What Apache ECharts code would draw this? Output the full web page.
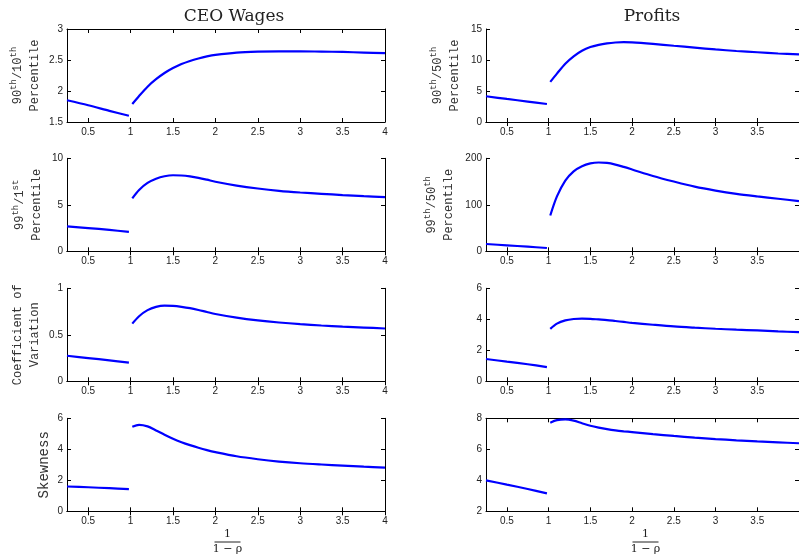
<!DOCTYPE HTML>
<html>
    <head>
        <meta charset="UTF-8">
        <title>CEO Wages and Profits</title>
        <style>
            html,body{margin:0;width:100%;height:100%;background:#fff;}
            #wrap{width:799px;height:556px;}
        </style>
    </head>
    <body>
        <div id="wrap"></div>

        <script src="https://cdn.jsdelivr.net/npm/echarts@6/dist/echarts.min.js"></script>
        <script>
            // x grid of the two segments (1/(1-rho))
            let xLow = [0.25, 0.5, 0.75, 0.98];
            let xHigh = [1.02, 1.1, 1.2, 1.3, 1.4, 1.5, 1.6, 1.7, 1.8, 1.9, 2, 2.25, 2.5, 2.75, 3, 3.25, 3.5, 3.75, 4];
            let xTicks = [0.5, 1, 1.5, 2, 2.5, 3, 3.5, 4];
            let xTicksRight = [0.5, 1, 1.5, 2, 2.5, 3, 3.5];

            // CEO wages
            let ceoP9010Low = [1.85, 1.77, 1.68, 1.60];
            let ceoP9010High = [1.79, 1.92, 2.07, 2.19, 2.29, 2.37, 2.435, 2.485, 2.525, 2.558, 2.583, 2.62, 2.635, 2.64, 2.64, 2.635, 2.63, 2.62, 2.61];
            let ceoP9901Low = [2.68, 2.5, 2.3, 2.08];
            let ceoP9901High = [5.7, 6.6, 7.35, 7.8, 8.07, 8.18, 8.15, 8.05, 7.9, 7.7, 7.48, 7.07, 6.75, 6.5, 6.32, 6.18, 6.05, 5.93, 5.82];
            let ceoCvLow = [0.275, 0.25, 0.225, 0.2];
            let ceoCvHigh = [0.62, 0.7, 0.765, 0.8, 0.813, 0.81, 0.8, 0.786, 0.767, 0.745, 0.724, 0.685, 0.655, 0.632, 0.614, 0.6, 0.588, 0.578, 0.568];
            let ceoSkewLow = [1.6, 1.55, 1.49, 1.43];
            let ceoSkewHigh = [5.45, 5.58, 5.48, 5.22, 4.94, 4.68, 4.46, 4.27, 4.1, 3.95, 3.82, 3.55, 3.36, 3.21, 3.1, 3.02, 2.95, 2.88, 2.82];

            // profits
            let prP9050Low = [4.15, 3.72, 3.3, 2.9];
            let prP9050High = [6.47, 7.8, 9.4, 10.6, 11.5, 12.1, 12.45, 12.68, 12.82, 12.88, 12.85, 12.6, 12.3, 12.0, 11.7, 11.45, 11.25, 11.05, 10.9];
            let prP9950Low = [15.7, 12.8, 10, 7.1];
            let prP9950High = [77, 118, 152, 172, 183, 189, 191, 190, 186.5, 181.5, 176, 162, 150, 139, 130.5, 123.5, 118, 113, 108];
            let prCvLow = [1.44, 1.27, 1.1, 0.92];
            let prCvHigh = [3.38, 3.72, 3.93, 4.02, 4.05, 4.03, 3.99, 3.95, 3.89, 3.83, 3.77, 3.65, 3.54, 3.46, 3.39, 3.33, 3.28, 3.22, 3.17];
            let prSkewLow = [4.0, 3.72, 3.44, 3.16];
            let prSkewHigh = [7.72, 7.88, 7.93, 7.85, 7.68, 7.52, 7.4, 7.3, 7.22, 7.16, 7.11, 6.98, 6.86, 6.75, 6.66, 6.58, 6.51, 6.45, 6.39];

            let serif = '"DejaVu Serif", serif';
            let mono = '"Liberation Mono", "DejaVu Sans Mono", monospace';
            let sup = {
                n: {fontFamily: mono, fontSize: 12, color: '#333', lineHeight: 17},
                s: {fontFamily: mono, fontSize: 9, color: '#333', verticalAlign: 'top', lineHeight: 17},
                b: {fontFamily: mono, fontSize: 14, color: '#333', lineHeight: 17}
            };

            let panels = [
                {col: 0, row: 0, low: ceoP9010Low, high: ceoP9010High, min: 1.5, max: 3, step: 0.5,
                 name: '{n|90}{s|th}{n|/10}{s|th}\n{n|Percentile}', gap: 24},
                {col: 0, row: 1, low: ceoP9901Low, high: ceoP9901High, min: 0, max: 10, step: 5,
                 name: '{n|99}{s|th}{n|/1}{s|st}\n{n|Percentile}', gap: 22},
                {col: 0, row: 2, low: ceoCvLow, high: ceoCvHigh, min: 0, max: 1, step: 0.5,
                 name: '{n|Coefficient of}\n{n|Variation}', gap: 24},
                {col: 0, row: 3, low: ceoSkewLow, high: ceoSkewHigh, min: 0, max: 6, step: 2,
                 name: '{b|Skewness}', gap: 14},
                {col: 1, row: 0, low: prP9050Low, high: prP9050High, min: 0, max: 15, step: 5,
                 name: '{n|90}{s|th}{n|/50}{s|th}\n{n|Percentile}', gap: 23},
                {col: 1, row: 1, low: prP9950Low, high: prP9950High, min: 0, max: 200, step: 100,
                 name: '{n|99}{s|th}{n|/50}{s|th}\n{n|Percentile}', gap: 29},
                {col: 1, row: 2, low: prCvLow, high: prCvHigh, min: 0, max: 6, step: 2, name: '', gap: 20},
                {col: 1, row: 3, low: prSkewLow, high: prSkewHigh, min: 2, max: 8, step: 2, name: '', gap: 20}
            ];

            let colLeft = [67, 486];
            let colWidth = [318, 317];
            let rowTop = [29, 158.3, 288.3, 418.3];

            let grid = [], xAxis = [], yAxis = [], series = [];
            let line = {show: true, lineStyle: {color: '#000', width: 1}};
            let tickStyle = {lineStyle: {color: '#000', width: 1}};
            let label = {color: '#222', fontFamily: '"Liberation Sans", Arial, sans-serif', fontSize: 10};

            panels.forEach(function (p, i) {
                grid.push({left: colLeft[p.col], top: rowTop[p.row], width: colWidth[p.col], height: 93});
                let ticks = p.col === 0 ? xTicks : xTicksRight;
                xAxis.push({
                    type: 'value', gridIndex: i, position: 'bottom', min: 0.25, max: 4,
                    axisLine: line, splitLine: {show: false},
                    axisTick: Object.assign({inside: true, length: 4, customValues: ticks}, tickStyle),
                    axisLabel: Object.assign({margin: 5, customValues: ticks}, label)
                });
                xAxis.push({
                    type: 'value', gridIndex: i, position: 'top', min: 0.25, max: 4,
                    axisLine: line, splitLine: {show: false},
                    axisTick: Object.assign({inside: true, length: 4, customValues: ticks}, tickStyle),
                    axisLabel: {show: false}
                });
                yAxis.push({
                    type: 'value', gridIndex: i, position: 'left', min: p.min, max: p.max, interval: p.step,
                    axisLine: line, splitLine: {show: false},
                    axisTick: Object.assign({inside: true, length: 4}, tickStyle),
                    axisLabel: Object.assign({margin: 4}, label),
                    name: p.name, nameLocation: 'middle', nameRotate: 90, nameGap: p.gap,
                    nameTextStyle: {rich: sup, align: 'center'}
                });
                yAxis.push({
                    type: 'value', gridIndex: i, position: 'right', min: p.min, max: p.max, interval: p.step,
                    axisLine: line, splitLine: {show: false},
                    axisTick: Object.assign({inside: true, length: 4}, tickStyle),
                    axisLabel: {show: false}
                });
                let segs = [[xLow, p.low], [xHigh, p.high]];
                segs.forEach(function (s) {
                    series.push({
                        type: 'line', xAxisIndex: i * 2, yAxisIndex: i * 2,
                        data: s[0].map((x, k) => [x, s[1][k]]),
                        showSymbol: false, smooth: 0.3,
                        lineStyle: {color: '#0000ff', width: 2.2},
                        itemStyle: {color: '#0000ff'}
                    });
                });
            });

            function frac(cx) {
                return {
                    type: 'group', left: cx - 14, top: 529,
                    children: [
                        {type: 'text', x: 14, y: 0, style: {text: '1', font: '11px ' + serif, fill: '#222', align: 'center'}},
                        {type: 'line', shape: {x1: 1, y1: 13, x2: 27, y2: 13}, style: {stroke: '#222', lineWidth: 1}},
                        {type: 'text', x: 14, y: 15, style: {text: '1 − ρ', font: '11px ' + serif, fill: '#222', align: 'center'}}
                    ]
                };
            }

            let chart = echarts.init(document.getElementById('wrap'));
            chart.setOption({
                animation: false,
                backgroundColor: '#fff',
                title: [
                    {text: 'CEO Wages', left: 229, top: 3, textAlign: 'center',
                     textStyle: {fontFamily: serif, fontSize: 17, fontWeight: 'normal', color: '#222'}},
                    {text: 'Profits', left: 647, top: 3, textAlign: 'center',
                     textStyle: {fontFamily: serif, fontSize: 17, fontWeight: 'normal', color: '#222'}}
                ],
                grid: grid,
                xAxis: xAxis,
                yAxis: yAxis,
                graphic: [frac(226), frac(644)],
                series: series
            });
        </script>
    </body>
</html>
